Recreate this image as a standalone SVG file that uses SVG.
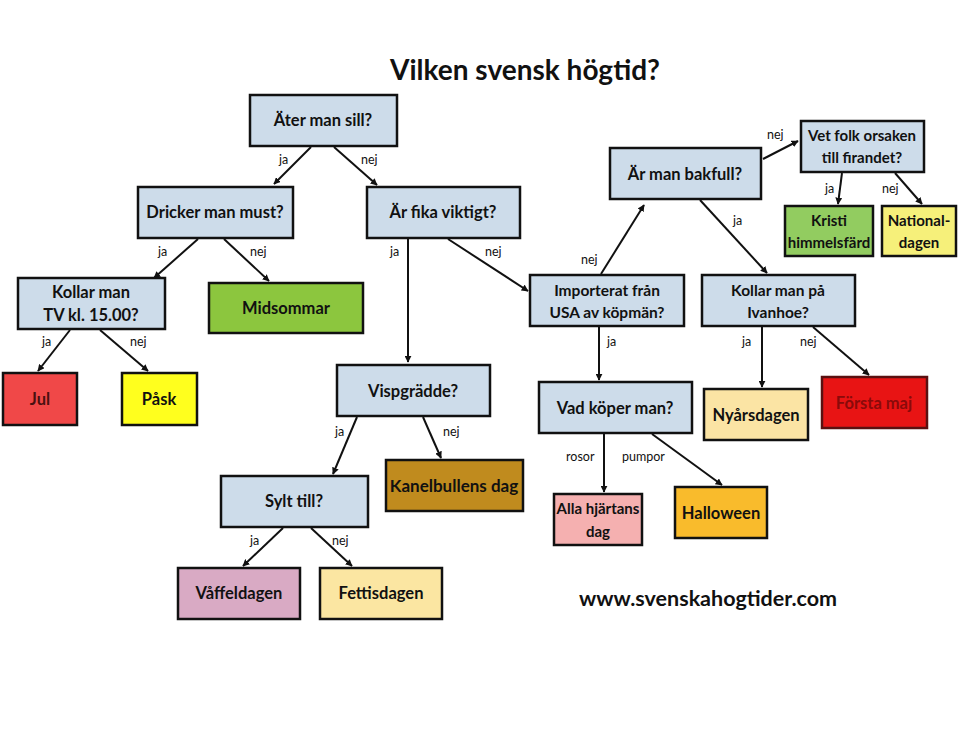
<svg xmlns="http://www.w3.org/2000/svg" width="960" height="740" viewBox="0 0 960 740">
<defs>
<marker id="ah" viewBox="0 0 10 10" refX="9" refY="5" markerWidth="7" markerHeight="7" markerUnits="userSpaceOnUse" orient="auto">
<path d="M0,0 L10,5 L0,10 z" fill="#111"/>
</marker>
<style>
.box{stroke:#111;stroke-width:2.5}
.q{fill:#cddcea}
.t{font-family:Lato,"Open Sans","DejaVu Sans",sans-serif;font-weight:bold;font-size:16.5px;fill:#111;text-anchor:middle}
.l{font-family:Lato,"Open Sans","DejaVu Sans",sans-serif;font-size:12.5px;fill:#111}
.c line{stroke:#111;stroke-width:2;marker-end:url(#ah)}
</style>
</defs>
<rect width="960" height="740" fill="#fff"/>
<text x="525" y="80" style="font-family:Lato,'Open Sans',sans-serif;font-weight:bold;font-size:28px;fill:#111;text-anchor:middle">Vilken svensk högtid?</text>

<g id="n-ater"><rect class="box q" x="250" y="95" width="147" height="51"/><text class="t" x="323" y="126">Äter man sill?</text></g>
<g id="n-dricker"><rect class="box q" x="138" y="187" width="155" height="51"/><text class="t" x="215" y="218">Dricker man must?</text></g>
<g id="n-fika"><rect class="box q" x="367" y="187" width="153" height="51"/><text class="t" x="443" y="218">Är fika viktigt?</text></g>
<g id="n-kollartv"><rect class="box q" x="18" y="278" width="147" height="51"/><text class="t" x="91" y="298">Kollar man</text><text class="t" x="91" y="321">TV kl. 15.00?</text></g>
<g id="n-midsommar"><rect class="box" fill="#8cc63e" x="209" y="283" width="154" height="50"/><text class="t" x="286" y="314">Midsommar</text></g>
<g id="n-jul"><rect class="box" fill="#f04848" x="3" y="373" width="74" height="52"/><text class="t" x="40" y="405" style="fill:#4a1010">Jul</text></g>
<g id="n-pask"><rect class="box" fill="#ffff1e" x="122" y="373" width="75" height="52"/><text class="t" x="159" y="405">Påsk</text></g>
<g id="n-visp"><rect class="box q" x="337" y="365" width="153" height="51"/><text class="t" x="413" y="397">Vispgrädde?</text></g>
<g id="n-kanel"><rect class="box" fill="#c08b1e" x="386" y="460" width="137" height="51"/><text class="t" x="454" y="492" style="font-size:17px">Kanelbullens dag</text></g>
<g id="n-sylt"><rect class="box q" x="221" y="476" width="147" height="51"/><text class="t" x="294" y="507">Sylt till?</text></g>
<g id="n-vaffel"><rect class="box" fill="#d9aac4" x="178" y="568" width="122" height="51"/><text class="t" x="239" y="599">Våffeldagen</text></g>
<g id="n-fettis"><rect class="box" fill="#fbe6a2" x="320" y="568" width="122" height="51"/><text class="t" x="381" y="599">Fettisdagen</text></g>
<g id="n-bakfull"><rect class="box q" x="610" y="148" width="151" height="51"/><text class="t" x="685" y="180">Är man bakfull?</text></g>
<g id="n-vetfolk"><rect class="box q" x="801" y="121" width="123" height="51"/><text class="t" x="862" y="141" style="font-size:15px">Vet folk orsaken</text><text class="t" x="862" y="163" style="font-size:15px">till firandet?</text></g>
<g id="n-kristi"><rect class="box" fill="#92cc60" x="785" y="206" width="88" height="50"/><text class="t" x="829" y="226" style="font-size:15px">Kristi</text><text class="t" x="829" y="248" style="font-size:15px">himmelsfärd</text></g>
<g id="n-national"><rect class="box" fill="#f6f07a" x="882" y="206" width="74" height="50"/><text class="t" x="919" y="226" style="font-size:15px">National-</text><text class="t" x="919" y="248" style="font-size:15px">dagen</text></g>
<g id="n-import"><rect class="box q" x="530" y="275" width="154" height="51"/><text class="t" x="607" y="296" style="font-size:15.5px">Importerat från</text><text class="t" x="607" y="318" style="font-size:15.5px">USA av köpmän?</text></g>
<g id="n-ivanhoe"><rect class="box q" x="702" y="275" width="153" height="51"/><text class="t" x="778" y="296" style="font-size:15.5px">Kollar man på</text><text class="t" x="778" y="318" style="font-size:15.5px">Ivanhoe?</text></g>
<g id="n-vadkoper"><rect class="box q" x="539" y="382" width="153" height="51"/><text class="t" x="615" y="414">Vad köper man?</text></g>
<g id="n-nyars"><rect class="box" fill="#fbe4a4" x="704" y="389" width="104" height="51"/><text class="t" x="756" y="421">Nyårsdagen</text></g>
<g id="n-forsta"><rect class="box" fill="#e81414" x="822" y="377" width="105" height="51" style="stroke:#5a1010"/><text class="t" x="874" y="409" style="fill:#8a0a0a">Första maj</text></g>
<g id="n-alla"><rect class="box" fill="#f5b0b0" x="554" y="494" width="88" height="51"/><text class="t" x="598" y="514" style="font-size:15px">Alla hjärtans</text><text class="t" x="598" y="537" style="font-size:15px">dag</text></g>
<g id="n-halloween"><rect class="box" fill="#f9bb2c" x="675" y="487" width="92" height="51"/><text class="t" x="721" y="519">Halloween</text></g>

<text x="708" y="606" style="font-family:Lato,'Open Sans',sans-serif;font-weight:bold;font-size:21.5px;fill:#111;text-anchor:middle">www.svenskahogtider.com</text>

<g id="connectors" class="c">
<line x1="311" y1="147" x2="274" y2="184"/>
<line x1="334" y1="147" x2="377" y2="185"/>
<line x1="198" y1="239" x2="154" y2="278"/>
<line x1="224" y1="239" x2="269" y2="281"/>
<line x1="408" y1="239" x2="408" y2="362"/>
<line x1="448" y1="239" x2="528" y2="291"/>
<line x1="70" y1="330" x2="38" y2="371"/>
<line x1="100" y1="330" x2="148" y2="371"/>
<line x1="357" y1="417" x2="333" y2="474"/>
<line x1="423" y1="417" x2="441" y2="458"/>
<line x1="283" y1="528" x2="243" y2="566"/>
<line x1="311" y1="528" x2="352" y2="566"/>
<line x1="601" y1="274" x2="644" y2="205"/>
<line x1="763" y1="159" x2="798" y2="141"/>
<line x1="842" y1="173" x2="838" y2="204"/>
<line x1="895" y1="173" x2="922" y2="204"/>
<line x1="700" y1="200" x2="767" y2="273"/>
<line x1="599" y1="327" x2="599" y2="380"/>
<line x1="762" y1="327" x2="762" y2="387"/>
<line x1="813" y1="327" x2="869" y2="375"/>
<line x1="604" y1="434" x2="604" y2="492"/>
<line x1="652" y1="434" x2="722" y2="485"/>
</g>
<g id="labels">
<text class="l" x="279" y="164">ja</text>
<text class="l" x="361" y="164">nej</text>
<text class="l" x="158" y="256">ja</text>
<text class="l" x="250" y="256">nej</text>
<text class="l" x="390" y="256">ja</text>
<text class="l" x="485" y="256">nej</text>
<text class="l" x="42" y="346">ja</text>
<text class="l" x="130" y="346">nej</text>
<text class="l" x="335" y="436">ja</text>
<text class="l" x="443" y="436">nej</text>
<text class="l" x="250" y="545">ja</text>
<text class="l" x="332" y="545">nej</text>
<text class="l" x="581" y="264">nej</text>
<text class="l" x="767" y="139">nej</text>
<text class="l" x="825" y="193">ja</text>
<text class="l" x="882" y="193">nej</text>
<text class="l" x="733" y="225">ja</text>
<text class="l" x="607" y="346">ja</text>
<text class="l" x="742" y="346">ja</text>
<text class="l" x="800" y="346">nej</text>
<text class="l" x="566" y="461">rosor</text>
<text class="l" x="622" y="461">pumpor</text>
</g>
</svg>
